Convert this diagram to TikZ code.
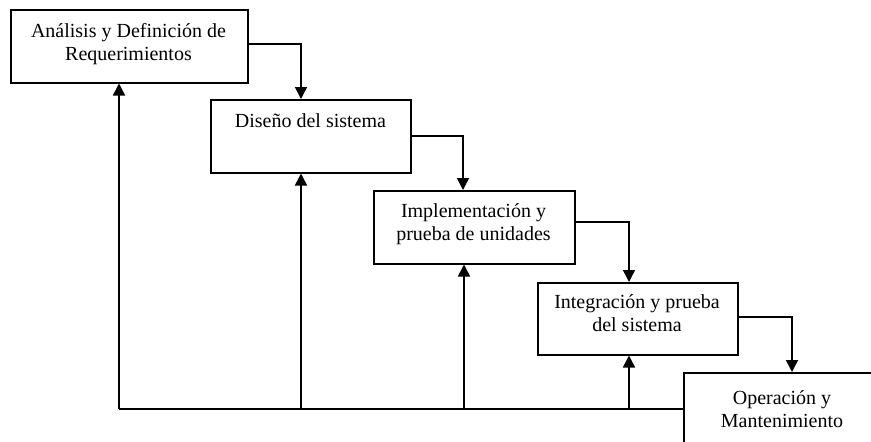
\documentclass[tikz,border=0pt]{standalone}
\usepackage{fontspec}
\setmainfont{Liberation Serif}
\usetikzlibrary{arrows.meta}
\newcommand{\tbstrut}{\rule{0pt}{20pt}}
\begin{document}
\begin{tikzpicture}[x=1pt,y=-1pt,
  boxstyle/.style={draw=black, line width=1.5pt, inner sep=0pt, anchor=north west},
  labelstyle/.style={inner sep=0pt, anchor=north, align=center, font=\fontsize{20}{23}\selectfont},
  conn/.style={draw=black, line width=1.5pt},
  arr/.style={conn, -{Triangle[width=12pt,length=12pt]}}]
\useasboundingbox (0,0) rectangle (871,442);
\clip (0,0) rectangle (871,442);
\fill[white] (0,0) rectangle (871,442);
% boxes
\node[boxstyle, minimum width=237pt, minimum height=73pt] (b1) at (10,9) {};
\node[boxstyle, minimum width=200pt, minimum height=73pt] (b2) at (210,99) {};
\node[boxstyle, minimum width=201pt, minimum height=73pt] (b3) at (373,190) {};
\node[boxstyle, minimum width=200pt, minimum height=72pt] (b4) at (537,282) {};
\node[boxstyle, minimum width=200pt, minimum height=90pt] (b5) at (683,372) {};
% labels
\node[labelstyle] (t1) at (128.5,17.5) {\tbstrut An\'alisis y Definici\'on de\\Requerimientos};
\node[labelstyle] (t2) at (310.5,107) {\tbstrut Dise\~no del sistema};
\node[labelstyle] (t3) at (473.5,197) {\tbstrut Implementaci\'on y\\prueba de unidades};
\node[labelstyle] (t4) at (637,288) {\tbstrut Integraci\'on y prueba\\del sistema};
\node[labelstyle] (t5) at (782,384) {\tbstrut Operaci\'on y\\Mantenimiento};
% forward connectors
\coordinate (c12) at (301,44);
\coordinate (c23) at (463,136);
\coordinate (c34) at (629,222);
\coordinate (c45) at (792,317);
\draw[arr] (b1.east |- c12) -| (b2.north -| c12);
\draw[arr] (b2.east |- c23) -| (b3.north -| c23);
\draw[arr] (b3.east |- c34) -| (b4.north -| c34);
\draw[arr] (b4.east |- c45) -| (b5.north -| c45);
% feedback
\coordinate (fb1) at (119,409);
\coordinate (fb2) at (301,409);
\coordinate (fb3) at (464,409);
\coordinate (fb4) at (629,409);
\draw[conn] (b5.west |- fb1) -- (fb1);
\draw[arr] (fb1) -- (b1.south -| fb1);
\draw[arr] (fb2) -- (b2.south -| fb2);
\draw[arr] (fb3) -- (b3.south -| fb3);
\draw[arr] (fb4) -- (b4.south -| fb4);
\end{tikzpicture}
\end{document}
